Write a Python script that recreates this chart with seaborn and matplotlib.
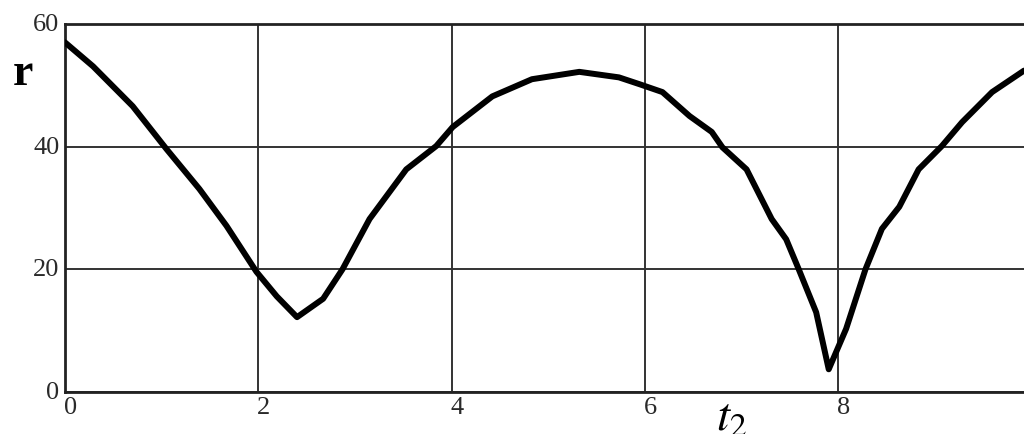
import numpy as np
import pandas as pd
import seaborn as sns
import matplotlib
matplotlib.use("Agg")
import matplotlib.pyplot as plt
from matplotlib.transforms import ScaledTranslation

# values
t2 = [0.00, 0.29, 0.70, 1.05, 1.39, 1.67, 1.98, 2.19, 2.40, 2.67, 2.87, 3.15, 3.53,
      3.84, 4.01, 4.42, 4.83, 5.32, 5.73, 5.94, 6.18, 6.46, 6.69, 6.80, 7.05, 7.31,
      7.46, 7.59, 7.77, 7.90, 8.08, 8.28, 8.45, 8.63, 8.83, 9.07, 9.28, 9.59, 9.92]
r = [57.0, 53.1, 46.6, 39.6, 33.1, 27.1, 19.6, 15.6, 12.2, 15.2, 20.0, 28.2, 36.3,
     40.1, 43.2, 48.2, 51.0, 52.2, 51.3, 50.2, 48.9, 45.0, 42.4, 39.9, 36.3, 28.2,
     24.9, 20.0, 13.0, 3.7, 10.3, 20.0, 26.6, 30.2, 36.3, 40.1, 44.0, 48.9, 52.4]
x_ticks = [0, 2, 4, 6, 8]
y_ticks = [0, 20, 40, 60]

df = pd.DataFrame({'t2': t2, 'r': r})

sns.set_style("white")
plt.rcParams['font.family'] = ['Liberation Serif', 'DejaVu Serif']

fig = plt.figure(figsize=(10.24, 4.35), dpi=100)
ax = fig.add_axes([0.0635, 0.0966, 0.9365, 0.8459])

sns.lineplot(data=df, x='t2', y='r', ax=ax, color='black', linewidth=4.3, zorder=3,
             solid_joinstyle='round', solid_capstyle='round')

ax.set_xlim(0, 9.92)
ax.set_ylim(0, 60)
ax.set_xticks(x_ticks)
ax.set_yticks(y_ticks)
ax.set_xticklabels([str(v) for v in x_ticks])
ax.set_yticklabels([str(v) for v in y_ticks])
ax.grid(True, color='#333333', linewidth=1.4)
ax.tick_params(axis='both', length=0, labelsize=19, colors='#2a2a2a')
ax.tick_params(axis='x', pad=3)
ax.tick_params(axis='y', pad=4)
for lbl in ax.get_xticklabels():
    lbl.set_horizontalalignment('left')
    lbl.set_transform(lbl.get_transform() + ScaledTranslation(-0.01, 0, fig.dpi_scale_trans))
for lbl in ax.get_yticklabels():
    lbl.set_verticalalignment('center')

for side in ['left', 'bottom', 'top']:
    ax.spines[side].set_color('#222222')
    ax.spines[side].set_linewidth(2.0)
ax.spines['right'].set_visible(False)

ax.set_xlabel('')
ax.set_ylabel('')

# axis labels as in the reference
fig.text(0.012, 0.83, 'r', fontsize=33, fontweight='bold', color='black', va='center')
fig.text(0.699, -0.012, r'$t_2$', fontsize=34, color='black', va='bottom',
         math_fontfamily='stix')

fig.savefig('out.png', dpi=100)
